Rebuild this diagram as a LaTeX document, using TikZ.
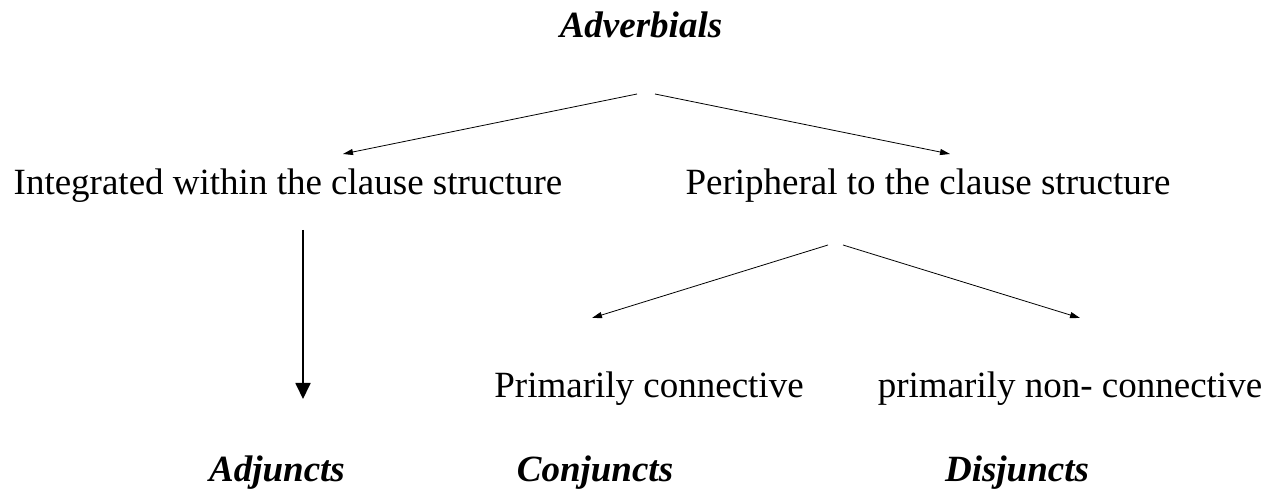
\documentclass[tikz,border=0pt]{standalone}
\usepackage{fontspec}
\setmainfont{Liberation Serif}
\usetikzlibrary{arrows.meta}
\begin{document}
\begin{tikzpicture}[x=1pt,y=-1pt,
  lbl/.style={inner sep=0pt, anchor=base, font=\fontsize{37}{44}\selectfont},
  hd/.style={lbl, font=\fontsize{37}{44}\selectfont\bfseries\itshape},
  arr/.style={-{Triangle[length=16pt,width=15pt]}, line width=1.8pt},
  thin/.style={-{Triangle[length=10pt,width=6pt]}, line width=0.8pt}]
\useasboundingbox (0,0) rectangle (1267,494);
\node[hd] (adv) at (641,38) {Adverbials};
\node[lbl] (int) at (288,195) {Integrated within the clause structure};
\node[lbl] (per) at (928,195) {Peripheral to the clause structure};
\node[lbl] (pc) at (649,397) {Primarily connective};
\node[lbl] (pnc) at (1070,397) {primarily non- connective};
\node[hd] (adj) at (277,481) {Adjuncts};
\node[hd] (con) at (595,481) {Conjuncts};
\node[hd] (dis) at (1017,481) {Disjuncts};
\coordinate (a1) at (637,94); \coordinate (a1e) at (343,154);
\coordinate (a2) at (655,94); \coordinate (a2e) at (950,154);
\coordinate (b1) at (828,245); \coordinate (b1e) at (592,318);
\coordinate (b2) at (843,245); \coordinate (b2e) at (1080,318);
\coordinate (c1) at (303,230); \coordinate (c1e) at (303,399);
\draw[thin] (a1) -- (a1e);
\draw[thin] (a2) -- (a2e);
\draw[thin] (b1) -- (b1e);
\draw[thin] (b2) -- (b2e);
\draw[arr] (c1) -- (c1e);
\end{tikzpicture}
\end{document}
